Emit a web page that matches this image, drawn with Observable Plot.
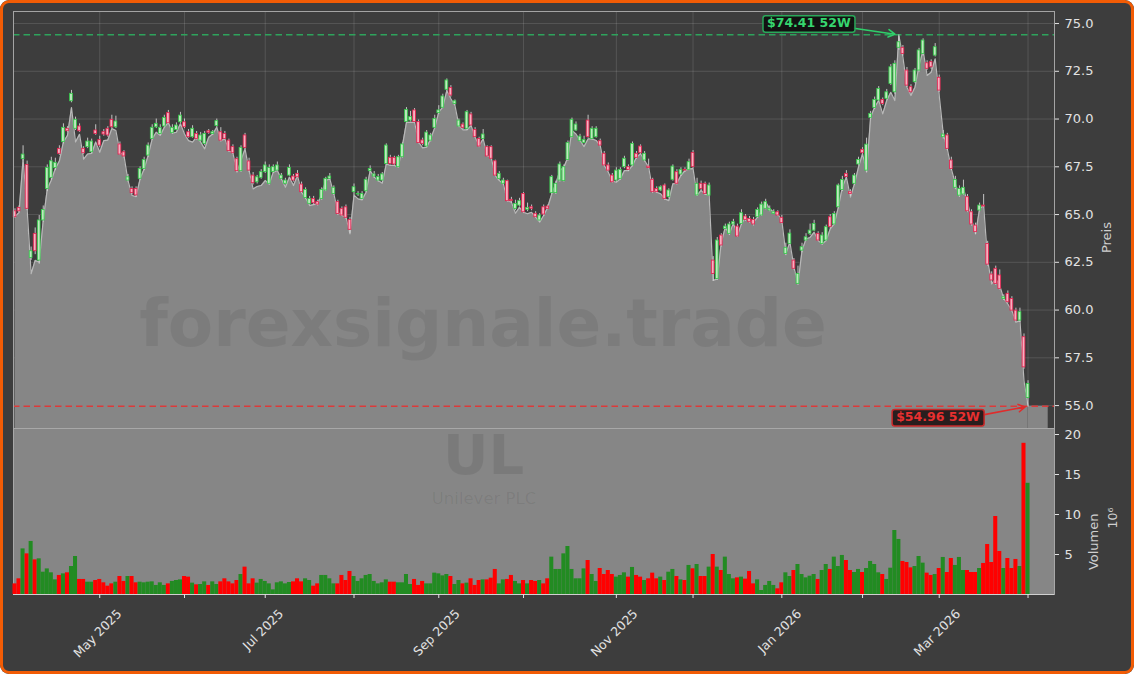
<!DOCTYPE html>
<html><head><meta charset="utf-8">
<script src="https://cdn.jsdelivr.net/npm/d3@7"></script>
<script src="https://cdn.jsdelivr.net/npm/@observablehq/plot@0.6"></script>
<style>
html,body{margin:0;padding:0;background:#ffffff;}
#wrap{position:relative;width:1134px;height:674px;background:#3d3d3d;overflow:hidden;border-radius:9px;font-family:"DejaVu Sans",sans-serif;}
#border{position:absolute;left:0;top:0;width:1134px;height:674px;box-sizing:border-box;border:3px solid #f25c05;border-radius:9px;pointer-events:none;z-index:10;}
#price{position:absolute;left:0;top:0;}
#vol{position:absolute;left:0;top:428px;}
svg{overflow:visible;}
</style></head><body>
<div id="wrap"><div id="price"></div><div id="vol"></div><div id="border"></div></div>
<script>
// ---- Data: UL (Unilever PLC) daily, trading-day index 0 = 2025-04-01 ... 251 = 2026-04-01 ----
const open = [65.17,65.35,67.90,67.60,62.73,63.99,62.59,64.69,66.34,66.92,
67.44,68.44,68.79,69.49,70.93,69.49,69.61,68.44,68.53,68.26,
69.40,68.91,69.31,69.49,69.96,69.57,68.67,68.26,66.78,66.34,
66.34,66.87,67.39,68.09,68.96,69.57,69.22,69.61,70.31,69.26,
69.43,69.83,69.83,69.31,69.05,69.22,68.87,68.70,69.36,69.22,
69.63,69.31,69.22,68.87,68.53,67.90,67.27,69.14,67.78,67.04,
66.69,66.92,67.22,66.61,67.22,67.30,66.87,66.61,67.04,66.99,
67.13,66.57,65.87,65.56,65.82,65.65,65.82,66.26,66.87,66.08,
65.65,65.30,65.38,64.72,66.17,66.05,65.82,66.22,67.27,66.99,
66.78,66.78,67.65,67.97,67.97,67.48,68.00,69.84,69.92,70.45,
69.84,68.88,68.56,68.87,69.54,70.31,70.59,71.53,71.63,70.79,
69.61,69.71,69.49,70.24,69.43,68.96,68.96,68.53,68.53,67.79,
66.87,66.61,66.75,65.77,65.30,65.47,66.08,65.25,65.38,65.04,
64.69,65.38,65.42,66.12,66.12,66.78,66.75,67.86,69.05,69.40,
68.84,68.74,69.92,68.96,69.05,68.84,68.18,67.57,67.04,66.78,
66.87,67.48,67.48,67.57,68.18,68.56,67.83,67.51,66.82,66.34,
66.26,66.52,65.91,66.82,67.22,67.10,67.34,67.34,68.23,66.00,
66.61,66.61,65.99,62.59,61.63,63.90,64.25,63.99,64.48,64.37,
64.51,64.90,64.77,64.72,64.86,64.95,65.30,65.21,65.03,65.12,
64.83,62.94,63.46,62.59,61.37,63.11,63.64,63.99,64.16,63.99,
63.46,63.64,64.86,64.48,65.38,66.29,67.13,66.17,66.61,67.62,
68.39,67.30,70.06,70.58,70.97,71.00,71.06,71.84,71.40,73.73,
73.73,72.54,71.67,71.93,72.54,73.41,72.92,72.98,73.32,72.16,
69.05,69.14,67.83,66.40,65.99,66.05,65.91,65.12,64.42,65.21,
65.47,63.46,61.86,62.16,61.81,60.58,60.85,60.58,59.97,59.45,
58.58,55.40];
const high = [65.30,65.45,68.60,67.80,63.30,64.30,64.95,65.45,67.60,68.00,
67.95,68.60,69.75,69.60,71.50,70.10,69.75,68.55,69.00,68.95,
69.70,69.10,69.45,69.60,70.20,70.15,68.80,68.35,67.10,66.45,
66.45,67.50,68.00,68.75,69.70,70.00,69.70,70.20,70.45,69.70,
69.80,70.35,70.00,69.45,69.65,69.35,69.30,69.35,69.45,69.40,
70.00,69.55,69.35,68.95,68.65,68.00,68.60,69.25,67.95,67.20,
67.05,67.35,67.75,67.60,67.60,67.75,67.15,66.90,67.60,67.10,
67.30,66.70,66.40,65.95,65.95,65.75,66.40,66.95,67.15,66.50,
65.75,65.40,65.50,64.85,66.60,66.20,66.20,66.95,67.55,67.25,
67.10,67.20,68.70,68.10,68.05,68.10,68.75,70.60,70.40,70.55,
69.95,69.00,69.40,69.25,70.20,70.70,71.30,72.10,71.75,71.00,
70.00,69.80,70.45,70.35,69.55,69.05,69.45,68.60,68.60,67.85,
67.25,66.90,66.80,65.90,65.75,65.85,66.15,65.60,65.50,65.15,
65.05,65.50,65.50,67.05,66.75,67.75,67.60,68.85,70.05,69.85,
69.20,69.10,70.20,69.60,69.60,68.95,68.30,67.70,67.15,67.45,
67.45,68.05,67.60,68.80,68.30,68.65,68.30,67.90,66.90,66.45,
66.50,66.60,66.35,67.60,67.35,67.45,67.45,67.90,68.35,66.90,
66.75,66.70,66.65,62.80,63.80,64.00,64.50,64.60,64.75,64.50,
65.25,65.00,64.90,64.85,65.35,65.65,65.80,65.45,65.25,65.20,
64.95,63.50,64.20,62.70,62.30,63.50,64.00,64.50,64.70,64.10,
64.05,64.45,65.00,65.15,66.60,67.00,67.30,66.30,67.15,68.00,
68.50,69.00,70.40,71.15,71.70,71.10,71.55,72.85,73.05,74.41,
73.85,72.70,71.80,72.65,73.70,74.20,73.05,73.10,73.95,72.30,
69.40,69.25,68.00,67.00,66.50,66.80,66.05,65.25,64.55,65.60,
66.05,63.60,62.00,62.30,62.10,60.80,61.00,60.70,60.10,60.10,
58.75,56.30];
const low = [64.80,65.10,67.80,65.20,62.60,62.90,62.40,64.60,66.20,66.80,
67.30,68.10,68.70,69.30,70.85,69.40,69.30,68.15,68.45,68.20,
69.15,68.50,69.10,69.05,69.50,69.50,68.10,67.95,66.70,66.05,
65.90,66.80,67.30,68.00,68.90,69.50,69.15,69.55,69.70,69.20,
69.40,69.75,69.50,69.00,69.00,68.90,68.80,68.60,69.20,69.15,
69.55,68.80,68.90,68.25,68.15,67.20,67.20,68.40,67.20,66.55,
66.60,66.85,67.15,66.55,67.15,67.25,66.80,66.55,67.00,66.70,
66.90,66.10,65.80,65.50,65.50,65.45,65.75,66.20,66.80,66.00,
64.95,64.90,64.75,64.00,66.00,65.95,65.75,66.15,67.20,66.90,
66.70,66.70,67.60,67.60,67.55,67.45,67.95,69.80,69.85,69.80,
68.70,68.60,68.50,68.80,69.50,70.25,70.55,71.45,71.15,70.70,
69.55,69.45,69.40,69.60,69.00,68.50,68.90,68.00,67.90,67.00,
66.80,66.55,65.65,65.60,65.20,65.40,65.05,65.15,65.20,64.80,
64.60,64.90,65.25,66.05,66.05,66.70,66.70,67.80,69.00,69.35,
68.80,68.70,69.00,68.90,69.00,68.55,67.50,67.25,66.65,66.70,
66.80,67.40,67.25,67.50,67.90,68.15,67.75,67.40,66.10,66.10,
66.20,65.75,65.85,66.75,66.55,67.00,67.20,67.30,67.40,65.95,
66.25,66.00,65.95,61.50,61.55,63.30,64.20,63.90,64.40,63.80,
64.45,64.65,64.55,64.40,64.80,64.90,65.25,65.15,65.00,64.90,
64.50,62.85,63.40,62.10,61.30,63.00,63.60,63.90,64.10,63.60,
63.40,63.60,64.25,64.45,65.30,66.20,66.90,65.95,66.55,67.55,
68.15,67.20,70.00,70.50,70.90,70.70,71.00,71.75,71.30,73.60,
73.30,71.65,71.30,71.85,72.45,73.30,72.55,72.60,73.25,71.40,
68.95,68.35,67.30,66.30,65.90,66.00,65.10,64.40,63.95,65.15,
65.35,62.30,61.45,61.30,61.05,60.50,60.35,59.90,59.40,59.35,
56.90,54.96];
const close = [64.86,65.17,68.14,65.30,63.08,63.08,64.69,65.24,67.44,67.79,
67.71,68.18,69.54,69.36,71.32,69.96,69.36,68.21,68.82,68.82,
69.22,68.61,69.19,69.14,69.57,69.87,68.14,68.04,66.95,66.12,
66.00,67.39,67.86,68.61,69.54,69.75,69.54,70.06,69.78,69.54,
69.66,70.18,69.57,69.05,69.49,68.96,69.14,69.22,69.28,69.31,
69.89,68.87,68.96,68.32,68.21,67.27,68.49,68.49,67.30,66.64,
66.95,67.22,67.57,67.44,67.48,67.57,67.04,66.78,67.44,66.78,
66.95,66.17,66.29,65.82,65.59,65.52,66.29,66.87,66.99,66.40,
65.03,64.95,64.83,64.20,66.43,66.08,66.08,66.82,67.39,67.10,
66.96,67.10,68.61,67.65,67.62,68.00,68.67,70.48,70.10,69.84,
68.74,68.70,69.29,69.14,70.01,70.45,71.18,72.02,71.23,70.93,
69.92,69.54,70.36,69.66,69.05,68.56,69.19,68.04,67.92,67.04,
67.13,66.78,65.70,65.70,65.56,65.70,65.12,65.35,65.30,64.86,
64.95,65.00,65.30,66.96,66.61,67.62,67.48,68.74,69.96,69.71,
69.08,68.91,69.05,69.49,69.49,68.61,67.57,67.30,66.69,67.30,
67.34,67.92,67.34,68.70,67.97,68.21,68.18,67.44,66.17,66.17,
66.43,65.82,66.26,67.51,66.61,67.34,67.30,67.74,67.48,66.61,
66.34,66.08,66.52,61.89,63.64,63.38,64.37,64.48,64.60,63.85,
65.07,64.72,64.60,64.48,65.24,65.52,65.65,65.30,65.12,64.95,
64.55,63.26,64.00,62.16,61.89,63.29,63.81,64.16,64.51,63.64,
63.90,64.34,64.34,65.03,66.52,66.81,66.96,66.08,67.04,67.86,
68.21,68.66,70.27,71.00,71.58,70.79,71.40,72.71,72.89,74.02,
73.41,71.75,71.40,72.54,73.59,74.11,72.63,72.71,73.76,71.49,
69.19,68.44,67.39,66.81,66.34,66.40,65.17,64.48,64.08,65.47,
65.42,62.38,61.55,61.37,61.11,60.67,60.41,59.97,59.45,59.89,
57.00,56.13];
// closing-price line drawn as the grey area
const areaClose = [64.90,65.10,67.90,65.30,61.90,62.60,62.50,64.70,66.34,66.80,
67.40,67.80,68.80,69.14,70.60,68.80,69.20,67.90,68.17,68.20,
68.80,68.26,68.87,68.90,69.50,69.40,68.26,68.09,66.78,66.00,
65.94,66.87,67.39,68.09,68.96,69.31,69.14,69.57,69.83,69.26,
69.31,69.75,69.22,68.87,68.79,69.05,68.79,68.44,69.05,69.22,
69.57,68.87,68.96,68.35,68.21,67.22,67.83,68.44,67.30,66.34,
66.47,66.52,66.78,66.60,67.22,67.30,66.87,66.43,66.96,66.52,
67.04,66.17,65.87,65.47,65.52,65.56,66.08,66.78,66.87,66.08,
65.12,64.95,64.86,63.99,66.02,65.82,65.77,66.17,67.30,66.96,
66.78,66.64,67.65,67.57,67.57,67.48,68.61,69.83,69.83,69.83,
68.79,68.49,68.53,68.96,69.54,70.36,70.62,71.49,71.06,70.71,
69.66,69.43,69.43,69.66,69.05,68.61,68.96,68.09,67.97,67.04,
66.78,66.61,65.73,65.65,65.07,65.38,65.12,65.04,65.12,64.86,
64.60,64.95,65.38,66.08,66.61,67.30,67.48,68.00,69.40,69.22,
68.88,68.56,68.96,68.96,68.88,68.61,67.57,67.22,66.75,66.69,
66.87,67.30,67.30,67.57,68.00,68.18,67.83,67.48,66.26,66.17,
66.08,65.82,65.73,66.61,66.64,67.04,67.30,67.39,67.40,66.00,
66.26,66.08,66.00,61.55,61.63,63.55,64.33,63.99,64.55,63.90,
64.51,64.86,64.68,64.60,64.86,65.21,65.65,65.30,65.12,65.03,
64.68,62.94,63.55,62.24,61.37,63.11,63.72,63.80,64.07,63.64,
63.46,63.64,64.25,64.51,65.38,66.43,66.96,65.91,66.61,67.48,
68.18,67.22,70.10,70.62,70.97,70.27,70.97,71.40,70.97,74.37,
73.24,71.67,71.23,71.67,72.80,73.59,72.28,72.45,73.15,71.23,
69.22,68.44,67.39,66.61,65.99,66.34,65.65,64.77,63.99,65.30,
65.47,62.59,61.37,61.63,61.28,60.58,60.32,59.97,59.36,59.45,
56.30,54.96];
// volume in millions
const volume = [1.33,1.96,5.7,5.08,6.63,4.33,4.46,2.79,3.2,2.71,
1.83,2.38,2.58,2.71,3.5,4.75,1.88,1.88,1.54,1.54,
1.75,1.88,1.46,1.04,1.33,1.54,2.25,1.63,2.25,2.25,
1.46,1.54,1.46,1.54,1.58,1.13,1.46,1.13,1.33,1.63,
1.75,1.83,2.25,2.17,1.42,1.21,1.25,1.58,1.13,1.58,
1.25,1.58,1.96,1.58,1.33,1.75,2.5,3.42,1.33,1.96,
1.42,1.88,1.63,1.33,0.58,1.46,1.58,1.33,1.5,1.58,
1.96,1.58,1.96,1.75,1.04,1.33,2.38,2.38,1.96,1.33,
1.33,2.38,1.75,2.88,2.25,1.63,1.96,2.38,2.5,1.63,
1.33,1.46,1.83,1.54,1.54,1.46,1.46,2.5,1.25,1.88,
1.13,1.63,1.33,1.33,2.67,2.58,2.33,2.5,2.25,1.25,
1.75,1.33,1.42,1.96,1.13,1.75,1.83,1.83,2.04,3.13,
1.33,1.83,1.88,2.38,1.63,1.33,1.75,1.33,1.75,1.63,
1.75,1.33,1.96,4.67,3.13,3.13,5.08,6.0,3.13,1.96,
1.96,3.2,4.25,2.5,1.63,3.25,2.5,3.0,2.5,2.17,
2.38,2.71,2.17,3.38,2.38,2.17,1.75,1.96,2.67,1.96,
2.17,1.75,2.79,3.13,2.25,1.83,1.75,3.63,3.21,3.75,
2.25,2.25,3.42,5.0,3.42,3.0,4.67,2.5,1.96,2.08,
2.17,1.92,2.88,1.33,1.83,0.5,1.13,1.63,1.13,0.71,
1.46,2.71,2.25,3.0,3.75,2.5,2.08,2.29,2.5,1.88,
3.0,3.75,3.13,4.67,3.5,4.88,4.25,3.0,2.75,3.13,
2.75,3.25,4.13,3.75,2.71,2.5,1.88,3.29,8.0,6.88,
4.13,4.0,3.33,3.5,4.75,3.92,2.67,2.38,2.5,3.25,
4.63,2.75,4.5,3.63,4.63,3.0,3.0,2.75,2.75,3.25,
3.88,6.25,4.0,9.75,5.38,3.25,4.5,3.25,4.38,3.5,
18.9,13.9];
// month starts (trading-day index) and their labels
const monthTickIdx = [21,42,62,84,105,126,149,168,190,210,229,251];
const monthTickLabels = ["May 2025","","Jul 2025","","Sep 2025","","Nov 2025","","Jan 2026","","Mar 2026",""];
const priceTicks = [55.0,57.5,60.0,62.5,65.0,67.5,70.0,72.5,75.0];
const volumeTicks = [5,10,15,20];
const tickerSymbol = "UL";
const companyName = "Unilever PLC";
const watermarkText = "forexsignale.trade";

// ---- build ----
const N = close.length;
const data = d3.range(N).map(i => ({i, o: open[i], h: high[i], l: low[i], c: close[i], a: areaClose[i], v: volume[i], up: close[i] >= open[i]}));
const W = 1134;
const ML = 13, MR = 80;
const xDomain = [-0.37, 257.56];
const yDomain = [53.8, 75.63];
const vDomain = [0, 20.75];
const hi = d3.max(high), lo = d3.min(low);
const hiIdx = high.indexOf(hi), loIdx = low.indexOf(lo);
const xs = d3.scaleLinear(xDomain, [ML, W - MR]);
const ys = d3.scaleLinear(yDomain, [428, 11]);
const hiLabel = "$" + hi.toFixed(2) + " 52W";
const loLabel = "$" + lo.toFixed(2) + " 52W";
const FONT = "'DejaVu Sans', sans-serif";
const GREEN_UP = "#34c94a", RED_DN = "#e3224f";

const price = Plot.plot({
  width: W, height: 429,
  marginLeft: ML, marginRight: MR, marginTop: 11, marginBottom: 1,
  style: {background: "transparent", fontFamily: FONT, fontSize: "13px", color: "#e2e2e2", overflow: "visible"},
  x: {domain: xDomain, axis: null},
  y: {domain: yDomain, axis: null},
  marks: [
    Plot.ruleY(priceTicks, {stroke: "#ffffff", strokeOpacity: 0.16, strokeWidth: 0.8}),
    Plot.ruleX(monthTickIdx, {stroke: "#ffffff", strokeOpacity: 0.16, strokeWidth: 0.8}),
    Plot.area(data, {x1: "i", y1: () => yDomain[0], y2: "a", fill: "#868686"}),
    Plot.rect([N - 1], {x1: d => d, x2: d => d + 5, y1: () => yDomain[0], y2: d => areaClose[d], fill: "#868686"}),
    Plot.line(data, {x: "i", y: "a", stroke: "#b8b8b8", strokeWidth: 1.2}),
    Plot.text([watermarkText], {text: d => d, frameAnchor: "top-left", dx: 469.5, dy: 313, textAnchor: "middle", lineAnchor: "middle", fontSize: 66, fontWeight: "bold", fill: "#000000", fillOpacity: 0.075}),
    Plot.ruleY([hi], {stroke: "#2ea35c", strokeWidth: 1.5, strokeDasharray: "6.5,4"}),
    Plot.ruleY([lo], {stroke: "#dc3a3a", strokeWidth: 1.5, strokeDasharray: "6.5,4"}),
    Plot.ruleX(data, {x: "i", y1: "l", y2: "h", stroke: "#d2d2d2", strokeWidth: 0.9}),
    Plot.rect(data, {x1: d => d.i - 0.34, x2: d => d.i + 0.34, y1: d => Math.min(d.o, d.c), y2: d => Math.max(d.o, d.c),
      fill: d => d.up ? "#bfe9bf" : "#f6b0c0", stroke: d => d.up ? GREEN_UP : RED_DN, strokeWidth: 0.85}),
    Plot.frame({stroke: "#a4a4a4", strokeWidth: 1}),
    Plot.axisY(priceTicks, {anchor: "right", tickSize: 4, tickPadding: 6, tickFormat: d => d.toFixed(1), label: null, fontSize: 13, color: "#e2e2e2"}),
    Plot.text(["Preis"], {text: d => d, frameAnchor: "right", dx: 52, dy: 2, rotate: -90, fontSize: 13, fill: "#cfcfcf"}),
    // annotations
    Plot.arrow([0], {x1: () => xs.invert(xs(hiIdx) - 45), y1: () => ys.invert(ys(hi) - 6.5), x2: () => hiIdx, y2: () => hi,
      stroke: "#2fcf6a", strokeWidth: 1.6, headLength: 7, insetEnd: 4}),
    Plot.arrow([0], {x1: () => xs.invert(xs(loIdx) - 45), y1: () => ys.invert(ys(lo) + 8.5), x2: () => loIdx, y2: () => lo,
      stroke: "#e02c2c", strokeWidth: 1.6, headLength: 7, insetEnd: 3}),
    Plot.text([hiLabel], {text: d => d, x: () => hiIdx, y: () => hi, dx: -90, dy: -11.5, textAnchor: "middle", lineAnchor: "middle", fontSize: 12.5, fontWeight: "bold", fill: "#36d66f"}),
    Plot.text([loLabel], {text: d => d, x: () => loIdx, y: () => lo, dx: -90, dy: 10.6, textAnchor: "middle", lineAnchor: "middle", fontSize: 12.5, fontWeight: "bold", fill: "#e83030"})
  ]
});
document.getElementById("price").appendChild(price);

// label boxes behind annotation text
function boxify(svg, label, stroke, fill) {
  d3.select(svg).selectAll("text").filter(function () { return this.textContent === label; }).each(function () {
    const bb = this.getBBox();
    const r = document.createElementNS("http://www.w3.org/2000/svg", "rect");
    r.setAttribute("x", bb.x - 4);
    r.setAttribute("y", bb.y + 0.5);
    r.setAttribute("width", bb.width + 8);
    r.setAttribute("height", bb.height + 1.5);
    r.setAttribute("rx", 2.5);
    r.setAttribute("fill", fill);
    r.setAttribute("fill-opacity", 0.88);
    r.setAttribute("stroke", stroke);
    r.setAttribute("stroke-width", 1.5);
    const t = this.getAttribute("transform");
    if (t) r.setAttribute("transform", t);
    this.parentNode.insertBefore(r, this);
  });
}
boxify(price, hiLabel, "#2aa85a", "#0c0c0c");
boxify(price, loLabel, "#c82828", "#1c1010");

// x tick labels (rotated 45°, centred below each tick): one text mark per label so each gets its own offset
const ctx = document.createElement("canvas").getContext("2d");
ctx.font = "12.5px 'DejaVu Sans'";
const labelData = monthTickIdx.map((i, k) => ({i, label: monthTickLabels[k]})).filter(d => d.label);
const labelMarks = labelData.map(d => {
  const w = ctx.measureText(d.label).width;
  const off = 13 + (w + 12.5) / Math.SQRT2 / 2;
  return Plot.text([d], {x: "i", text: "label", frameAnchor: "bottom", dy: off, dx: -2, rotate: -45, textAnchor: "middle", lineAnchor: "middle", fontSize: 12.5, fill: "#e2e2e2"});
});

const vol = Plot.plot({
  width: W, height: 246,
  marginLeft: ML, marginRight: MR, marginTop: 0, marginBottom: 80,
  style: {background: "transparent", fontFamily: FONT, fontSize: "13px", color: "#e2e2e2", overflow: "visible"},
  x: {domain: xDomain, axis: null},
  y: {domain: vDomain, axis: null},
  marks: [
    Plot.frame({fill: "#868686", stroke: "#a8a8a8", strokeWidth: 1}),
    Plot.text([tickerSymbol], {text: d => d, frameAnchor: "top-left", dx: 470, dy: 28, textAnchor: "middle", lineAnchor: "middle", fontSize: 56, fontWeight: "bold", fill: "#000000", fillOpacity: 0.085}),
    Plot.text([companyName], {text: d => d, frameAnchor: "top-left", dx: 470.5, dy: 70, textAnchor: "middle", lineAnchor: "middle", fontSize: 16.5, fill: "#000000", fillOpacity: 0.07}),
    Plot.rect(data, {x1: d => d.i - 0.5, x2: d => d.i + 0.5, y1: () => 0, y2: "v", fill: d => d.up ? "#228b22" : "#ff0000"}),
    Plot.ruleY([0], {stroke: "#d0d0d0", strokeWidth: 1}),
    Plot.axisY(volumeTicks, {anchor: "right", tickSize: 4, tickPadding: 6, label: null, fontSize: 13, color: "#e2e2e2"}),
    Plot.axisX(monthTickIdx, {anchor: "bottom", tickSize: 4, tickFormat: () => "", label: null, color: "#e2e2e2"}),
    ...labelMarks,
    Plot.text(["Volumen"], {text: d => d, frameAnchor: "right", dx: 39, dy: 2, rotate: -90, fontSize: 13, fill: "#cfcfcf"}),
    Plot.text(["10\u2076"], {text: d => d, frameAnchor: "right", dx: 58, dy: -4, rotate: -90, fontSize: 12.5, fill: "#cfcfcf"})
  ]
});
document.getElementById("vol").appendChild(vol);
</script>
</body></html>
